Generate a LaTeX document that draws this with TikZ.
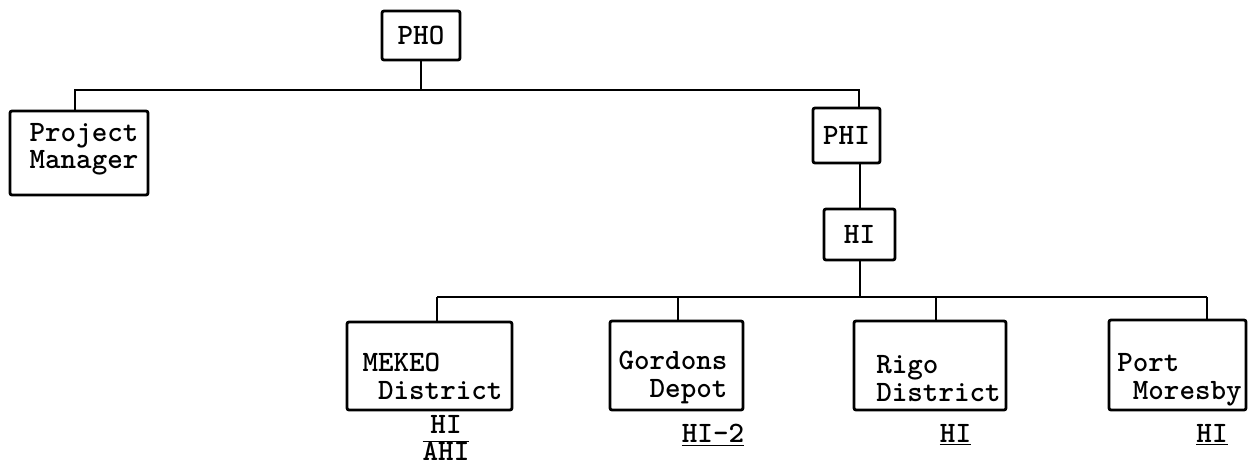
\documentclass[tikz,border=0pt]{standalone}
\usepackage{fontspec}
\begin{document}
\begin{tikzpicture}[x=0.5pt,y=-0.5pt,
  box/.style={draw,line width=1.4pt,rounded corners=1pt,inner sep=0pt,outer sep=0pt,
    font=\ttfamily\bfseries\fontsize{14.8}{15}\selectfont},
  txt/.style={inner sep=0pt,align=left,font=\ttfamily\bfseries\fontsize{14.8}{14}\selectfont},
  lbl/.style={inner sep=0pt,font=\ttfamily\bfseries\fontsize{14.8}{15}\selectfont},
  conn/.style={line width=1pt},
  thinconn/.style={line width=0.7pt}]
\useasboundingbox (0,0) rectangle (1248,468);
% boxes
\node[box,minimum width=39pt,minimum height=24.5pt] (pho) at (421,35.5) {PHO};
\node[box,minimum width=69pt,minimum height=42pt] (pm) at (79,153) {};
\node[txt,font=\ttfamily\bfseries\fontsize{14.8}{10.5}\selectfont] (pmt) at (84,149) {Project\\Manager};
\node[box,minimum width=33.5pt,minimum height=27.5pt] (phi) at (846.5,135.5) {PHI};
\node[box,minimum width=35.5pt,minimum height=25.5pt] (hi) at (859.5,234.5) {HI};
\node[box,minimum width=82.5pt,minimum height=44pt] (mek) at (429.5,366) {};
\node[txt] (mekt) at (432.5,376) {MEKEO\\\ District};
\node[box,minimum width=66.5pt,minimum height=44.5pt] (gor) at (676.5,365.5) {};
\node[txt] (gort) at (673,377) {Gordons\\\ \ Depot};
\node[box,minimum width=76pt,minimum height=44.5pt] (rig) at (930,365.5) {};
\node[txt] (rigt) at (938.5,378.5) {Rigo\\District};
\node[box,minimum width=68.5pt,minimum height=45pt] (por) at (1177.5,365) {};
\node[txt] (port) at (1179.5,380) {Port\\\ Moresby};
% labels
\node[lbl] (mekl) at (446,442) {\renewcommand\arraystretch{0.85}\begin{tabular}{@{}c@{}}HI\\\hline AHI\end{tabular}};
\node[lbl] (gorl) at (713,435) {\underline{HI-2}};
\node[lbl] (rigl) at (955.5,435) {\underline{HI}};
\node[lbl] (porl) at (1212,435) {\underline{HI}};
% top bus
\coordinate (b1) at (75,90);
\coordinate (b2) at (859,90);
\draw[conn] (pho.south) -- (pho.south |- b1);
\draw[conn] (pm.north -| b1) -- (b1) -- (b2) -- (phi.north -| b2);
\draw[conn] (phi.south -| hi.north) -- (hi.north);
% lower bus
\coordinate (c0) at (859,297);
\coordinate (c1) at (437,297);
\coordinate (c2) at (678,297);
\coordinate (c3) at (936,297);
\coordinate (c4) at (1207,297);
\draw[conn] (hi.south) -- (hi.south |- c0);
\draw[thinconn] (c1) -- (c4);
\draw[conn] (c1) -- (mek.north -| c1);
\draw[conn] (c2) -- (gor.north -| c2);
\draw[conn] (c3) -- (rig.north -| c3);
\draw[conn] (c4) -- (por.north -| c4);
\end{tikzpicture}
\end{document}
